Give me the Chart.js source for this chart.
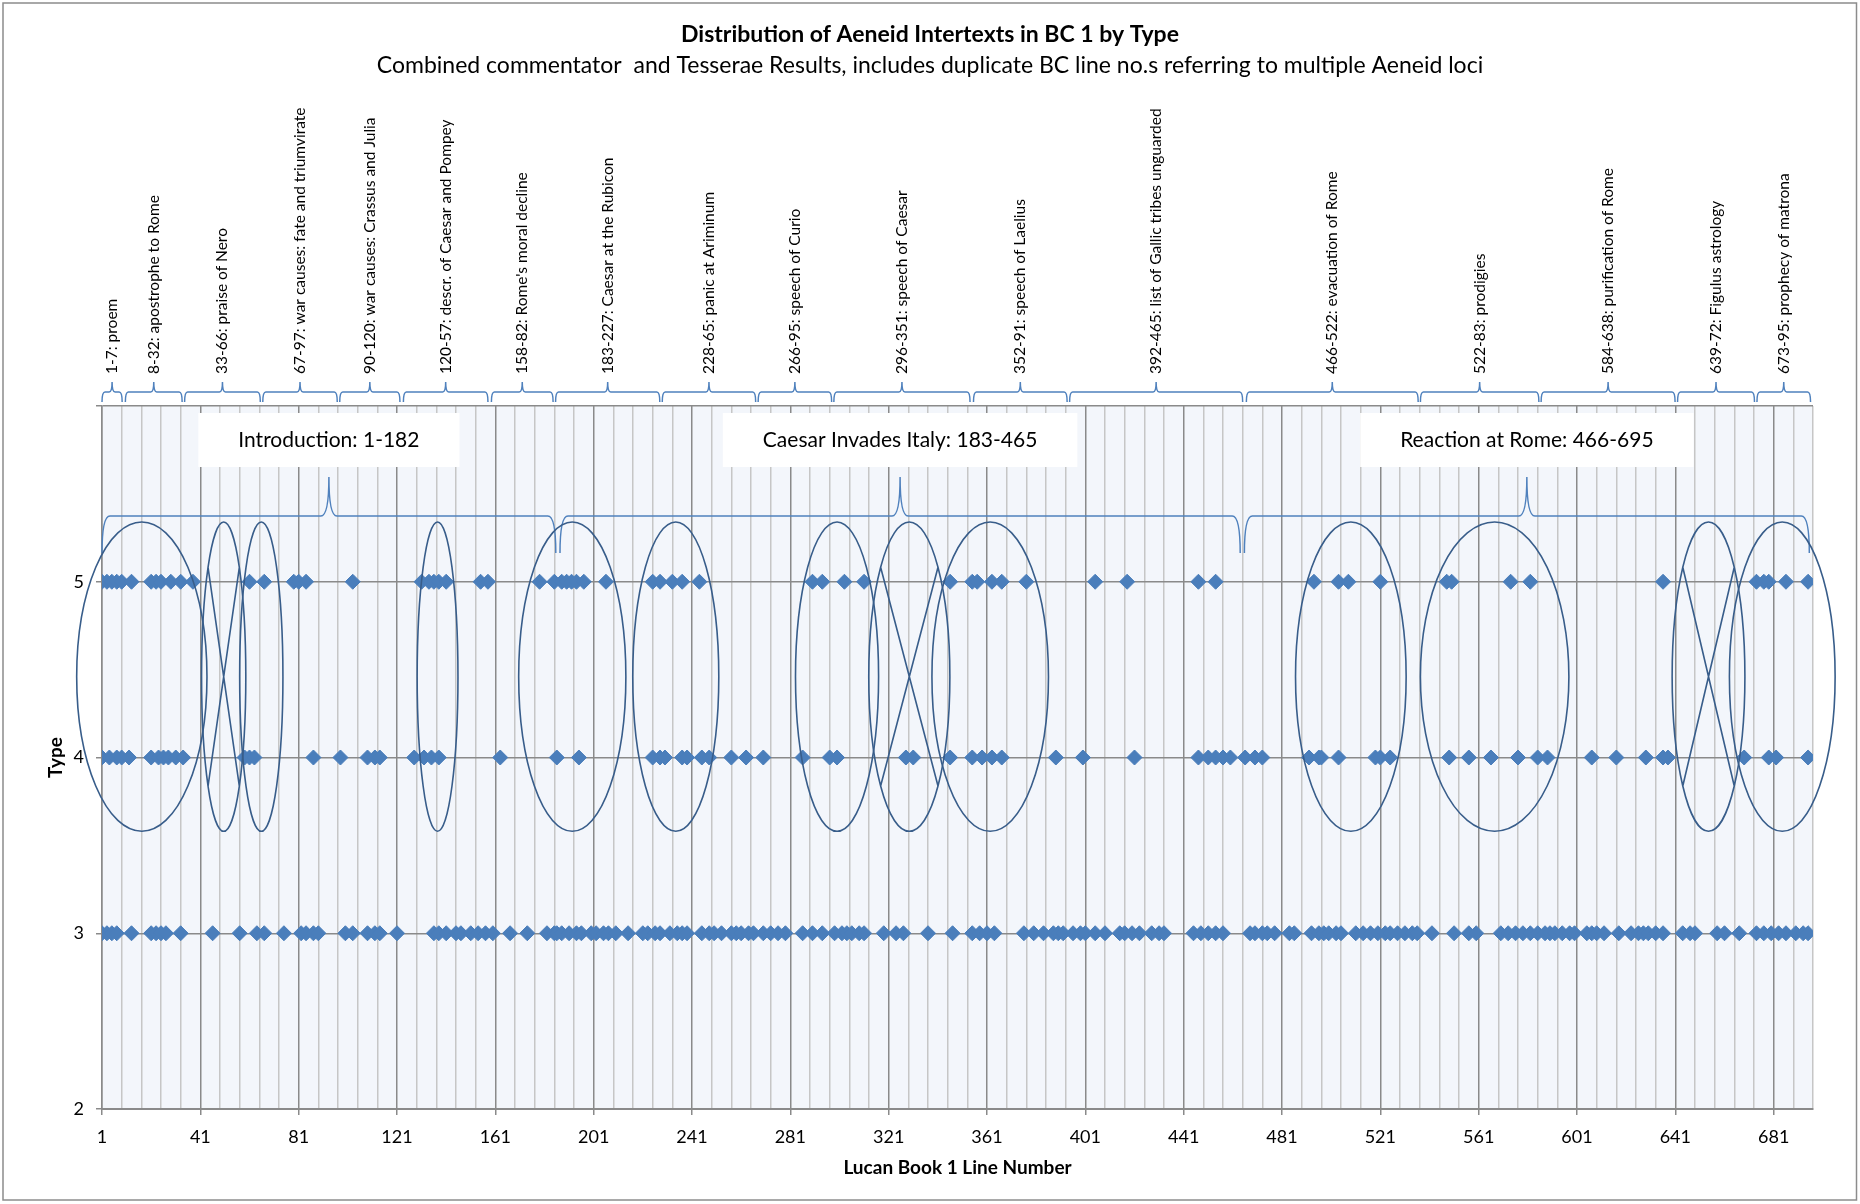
<!DOCTYPE html>
<html><head><meta charset="utf-8">
<script src="https://cdn.jsdelivr.net/npm/chart.js@4.4.1/dist/chart.umd.min.js"></script>
<style>html,body{margin:0;padding:0;background:#fff;}canvas{display:block;}</style>
</head><body>
<canvas id="c" width="1860" height="1204"></canvas>
<script>
// ---------- data (Lucan BC 1 line numbers of Aeneid intertexts, by type) ----------
const type5Lines = [1,3,5,7,9,13,21,23,25,29,33,38,61,67,79,81,84,103,131,134,136,138,141,155,158,179,185,188,190,192,194,197,206,225,228,233,237,244,290,294,303,311,346,355,357,363,367,377,405,418,447,454,494,504,508,521,548,550,574,582,636,674,677,679,686,695];
const type4Lines = [1,4,7,9,12,21,24,26,28,31,34,59,61,63,87,98,109,112,114,128,132,135,138,163,186,195,225,228,230,237,239,245,248,257,263,270,286,297,300,328,331,346,355,359,363,367,389,400,421,447,451,454,457,460,466,470,473,492,496,497,504,519,521,525,549,557,566,577,585,589,607,617,629,636,638,669,679,682,695];
const type3Lines = [1,3,5,7,13,21,23,25,27,33,46,57,64,67,75,82,84,87,89,100,103,109,112,114,121,136,138,141,145,147,151,154,157,160,167,174,182,185,186,188,191,194,196,200,202,205,207,210,215,221,223,226,228,232,235,237,239,245,248,250,253,257,259,261,264,266,270,273,276,279,286,290,294,299,302,304,306,309,311,319,324,327,337,347,355,358,361,364,376,380,384,388,390,392,396,399,401,405,409,415,417,420,423,428,431,433,445,448,451,454,457,468,470,473,475,478,484,486,493,496,498,500,503,505,511,514,517,520,523,525,528,531,534,536,542,551,557,560,570,573,576,579,582,585,588,590,592,595,598,600,605,607,609,612,618,623,626,628,630,633,636,644,647,649,658,661,667,674,677,680,683,686,690,693,695];

const xTickLabels = ['1','41','81','121','161','201','241','281','321','361','401','441','481','521','561','601','641','681'];
const yTickLabels = ['2','3','4','5'];

// narrative sections of Book 1 (label, bracket from line, bracket to line)
const sectionLabels = ['1-7: proem','8-32: apostrophe to Rome','33-66: praise of Nero','67-97: war causes: fate and triumvirate','90-120: war causes: Crassus and Julia','120-57: descr. of Caesar and Pompey','158-82: Rome\'s moral decline','183-227: Caesar at the Rubicon','228-65: panic at Ariminum','266-95: speech of Curio','296-351: speech of Caesar','352-91: speech of Laelius','392-465: list of Gallic tribes unguarded','466-522: evacuation of Rome','522-83: prodigies','584-638: purification of Rome','639-72: Figulus astrology','673-95: prophecy of matrona'];
const sectionFrom = [1,10.5,34.6,66.4,97.7,123.6,159.4,185.5,228.9,267.9,298.7,355.5,394.6,466.5,537.3,586.4,641.9,674.2];
const sectionTo   = [9.2,33.6,65.4,96.7,122.2,158,184.5,227.9,266.9,297.8,354.1,393.6,465,536.4,585.5,640.9,673.2,696];

// three parts of the book
const partLabels = ['Introduction: 1-182','Caesar Invades Italy: 183-465','Reaction at Rome: 466-695'];
const partFrom = [1,187.3,465.7];
const partTo   = [185.6,464,695.5];

// circled clusters (centre line, half-width in lines); crossed = ellipse with an X inside
const clusterCentre = [17.2,50.5,65.8,137.5,192.3,234.4,300,329.4,362.3,509,567.5,654.5,684.5];
const clusterHalf   = [26.5,9,8.8,8.3,21.8,17.5,16.9,16.5,23.7,22.5,30.2,14.8,21.5];
const clusterCrossed= [false,true,false,false,false,false,false,true,false,false,false,true,false];
const clusterTop = 5.34, clusterBottom = 3.58;

// ---------- chart ----------
Chart.defaults.font.family = 'Lato';
Chart.defaults.color = '#000';
const BLUE = '#4A7EBB';

const plotBg = {
  id: 'plotBg',
  beforeDraw(chart) {
    const {ctx, chartArea: a} = chart;
    ctx.save();
    ctx.fillStyle = '#fff';
    ctx.fillRect(0, 0, chart.width, chart.height);
    ctx.fillStyle = '#F3F6FB';
    ctx.fillRect(a.left, a.top, a.right - a.left, a.bottom - a.top);
    ctx.restore();
  }
};

function brace(ctx, x0, x1, yl, ytip, yend, r) {
  const xm = (x0 + x1) / 2;
  ctx.beginPath();
  ctx.moveTo(x0, yend);
  ctx.quadraticCurveTo(x0, yl, x0 + r, yl);
  ctx.lineTo(xm - r, yl);
  ctx.quadraticCurveTo(xm, yl, xm, ytip);
  ctx.quadraticCurveTo(xm, yl, xm + r, yl);
  ctx.lineTo(x1 - r, yl);
  ctx.quadraticCurveTo(x1, yl, x1, yend);
  ctx.stroke();
}

const annotations = {
  id: 'annotations',
  afterDraw(chart) {
    const {ctx, scales: {x, y}} = chart;
    ctx.save();
    // section brackets + rotated labels
    ctx.strokeStyle = '#4F81BD';
    ctx.lineWidth = 1.5;
    ctx.fillStyle = '#000';
    ctx.font = '15.5px Lato';
    sectionLabels.forEach((lab, i) => {
      const x0 = x.getPixelForValue(sectionFrom[i]);
      const x1 = x.getPixelForValue(sectionTo[i]);
      brace(ctx, x0, x1, 392, 382, 402, 3);
      ctx.save();
      ctx.translate((x0 + x1) / 2, 374);
      ctx.rotate(-Math.PI / 2);
      ctx.textAlign = 'left';
      ctx.textBaseline = 'middle';
      ctx.fillText(lab, 0, 0);
      ctx.restore();
    });
    // part boxes and braces
    ctx.font = '21px Lato';
    partLabels.forEach((lab, i) => {
      const x0 = x.getPixelForValue(partFrom[i]);
      const x1 = x.getPixelForValue(partTo[i]);
      const xm = (x0 + x1) / 2;
      const w = ctx.measureText(lab).width + 80;
      ctx.fillStyle = '#fff';
      ctx.fillRect(xm - w / 2, 413, w, 54);
      ctx.fillStyle = '#000';
      ctx.textAlign = 'center';
      ctx.textBaseline = 'middle';
      ctx.fillText(lab, xm, 440);
      ctx.strokeStyle = '#4F81BD';
      ctx.lineWidth = 1.5;
      brace(ctx, x0, x1, 516, 477, 553, 8);
    });
    // cluster ellipses
    ctx.strokeStyle = '#385D8A';
    ctx.lineWidth = 1.6;
    const yt = y.getPixelForValue(clusterTop), yb = y.getPixelForValue(clusterBottom);
    const cy = (yt + yb) / 2, ry = (yb - yt) / 2;
    const k = Math.SQRT1_2;
    clusterCentre.forEach((c, i) => {
      const cx = x.getPixelForValue(c);
      const rx = x.getPixelForValue(c + clusterHalf[i]) - cx;
      ctx.beginPath();
      ctx.ellipse(cx, cy, rx, ry, 0, 0, Math.PI * 2);
      if (clusterCrossed[i]) {
        ctx.moveTo(cx - rx * k, cy - ry * k);
        ctx.lineTo(cx + rx * k, cy + ry * k);
        ctx.moveTo(cx + rx * k, cy - ry * k);
        ctx.lineTo(cx - rx * k, cy + ry * k);
      }
      ctx.stroke();
    });
    // outer chart border
    ctx.strokeStyle = '#8C8C8C';
    ctx.lineWidth = 1.5;
    ctx.strokeRect(3, 3, 1853.5, 1197);
    ctx.restore();
  }
};

const mk = (arr, t) => arr.map(v => ({x: v, y: t}));
const isMajor = v => (v - 1) % 40 === 0;

new Chart(document.getElementById('c'), {
  type: 'scatter',
  data: {
    datasets: [
      {label: 'Type 5', data: mk(type5Lines, 5)},
      {label: 'Type 4', data: mk(type4Lines, 4)},
      {label: 'Type 3', data: mk(type3Lines, 3)}
    ].map(d => Object.assign(d, {pointStyle: 'rectRot', pointRadius: 7.5, pointHoverRadius: 7.5,
        backgroundColor: BLUE, borderColor: BLUE, borderWidth: 1}))
  },
  options: {
    responsive: false,
    animation: false,
    devicePixelRatio: 1,
    events: [],
    layout: {padding: {top: 0, left: 0, right: 0, bottom: 0}},
    plugins: {
      legend: {display: false},
      tooltip: {enabled: false},
      title: {display: true, text: 'Distribution of Aeneid Intertexts in BC 1 by Type',
        font: {family: 'Lato', size: 23, weight: 'bold'}, color: '#000', padding: {top: 21.2, bottom: 3.4}},
      subtitle: {display: true, text: 'Combined commentator  and Tesserae Results, includes duplicate BC line no.s referring to multiple Aeneid loci',
        font: {family: 'Lato', size: 23}, color: '#000', padding: {top: 0, bottom: 326.2}}
    },
    scales: {
      x: {
        type: 'linear', min: 1, max: 697,
        afterBuildTicks: s => { const t = []; for (let v = 1; v <= 697; v += 8) t.push({value: v}); s.ticks = t; },
        afterFit: s => { s.height = 95; },
        ticks: {autoSkip: false, maxRotation: 0, minRotation: 0, padding: 11, color: '#000',
          font: {family: 'Lato', size: 18},
          callback: v => xTickLabels.includes(String(v)) ? String(v) : ''},
        grid: {color: c => isMajor(c.tick.value) ? '#8A8A8A' : '#C6C6C6', lineWidth: 1.5,
          tickLength: 6, tickColor: c => isMajor(c.tick.value) ? '#8A8A8A' : 'rgba(0,0,0,0)'},
        border: {color: '#8A8A8A', width: 2},
        title: {display: true, text: 'Lucan Book 1 Line Number', color: '#000',
          font: {family: 'Lato', size: 19, weight: 'bold'}, padding: {top: 0, bottom: 24.6}}
      },
      y: {
        min: 2, max: 6,
        afterBuildTicks: s => { s.ticks = [2, 3, 4, 5, 6].map(v => ({value: v})); },
        afterFit: s => { s.width = 102; },
        ticks: {padding: 12, color: '#000', font: {family: 'Lato', size: 18},
          callback: v => yTickLabels.includes(String(v)) ? String(v) : ''},
        grid: {color: '#8A8A8A', lineWidth: 1.5, tickLength: 6, tickColor: '#8A8A8A'},
        border: {color: '#8A8A8A', width: 1.5},
        title: {display: true, text: 'Type', color: '#000',
          font: {family: 'Lato', size: 19, weight: 'bold'}, padding: {top: 44.6, bottom: 0}}
      },
      yRightMargin: {
        position: 'right', min: 0, max: 1, display: true,
        afterFit: s => { s.width = 47; },
        ticks: {display: false},
        grid: {display: false, drawTicks: false},
        border: {display: false},
        title: {display: false}
      }
    }
  },
  plugins: [plotBg, annotations]
});
</script>
</body></html>
